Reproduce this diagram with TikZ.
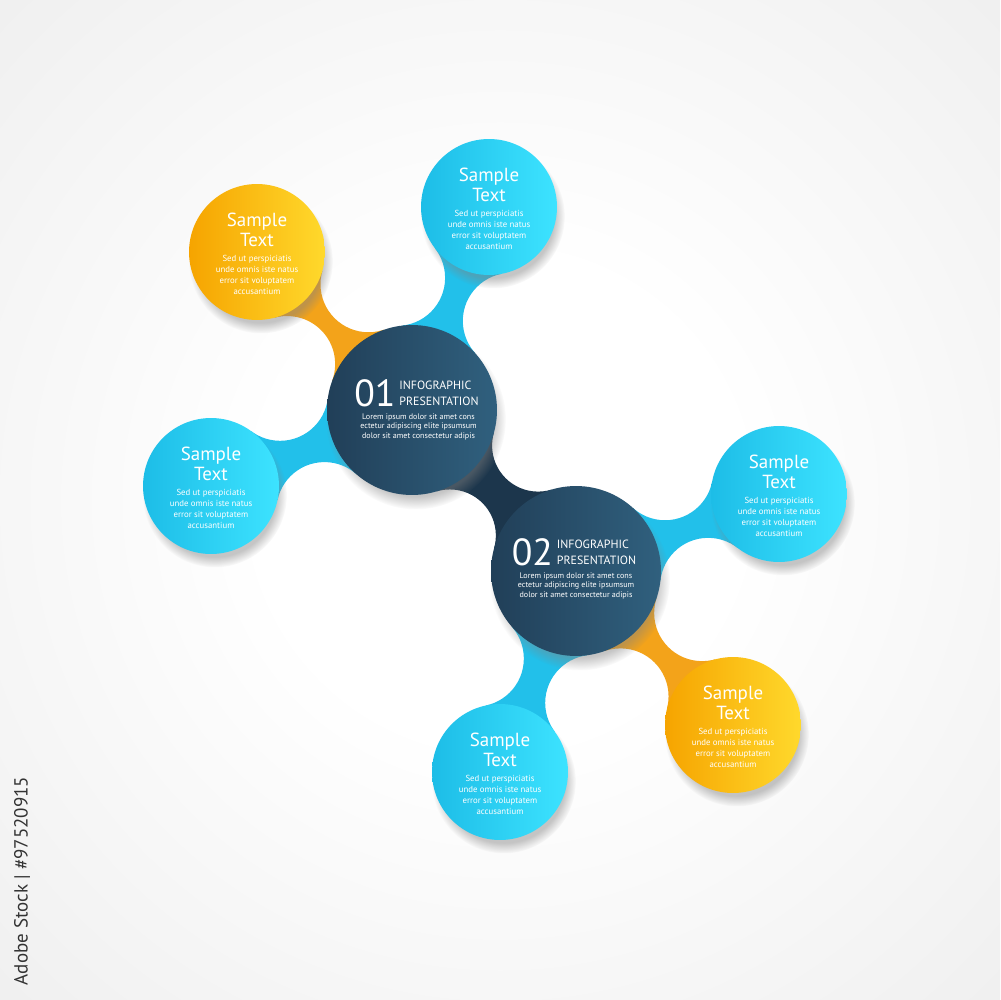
\documentclass[tikz,border=0pt]{standalone}
\usepackage{fontspec}
\setmainfont{PT Sans}
\usetikzlibrary{calc,
                intersections,
                shadows,
                backgrounds,
                positioning}

\definecolor{paper}{HTML}{CDCDCD}
\definecolor{navyleft}{HTML}{213F58}
\definecolor{navyright}{HTML}{30607E}
\definecolor{navyneck}{HTML}{1C364C}
\definecolor{skyleft}{HTML}{1DBDE7}
\definecolor{skyright}{HTML}{3DE3FF}
\definecolor{skyneck}{HTML}{22C0EA}
\definecolor{amberleft}{HTML}{F6A400}
\definecolor{amberright}{HTML}{FFD92C}
\definecolor{amberneck}{HTML}{F3A31A}

\pgfdeclareradialshading{backdrop}{\pgfpoint{0bp}{0bp}}{%
  color(0bp)=(white); color(12bp)=(white); color(35bp)=(paper!30!white);
  color(50bp)=(paper!60!white); color(71bp)=(paper)}

\tikzset{
  blob/.style={circle, inner sep=0pt, outer sep=0pt,
    circular drop shadow={shadow xshift=2pt, shadow yshift=-5pt, shadow scale=1.06, opacity=.45}},
  hub/.style={blob, minimum size=3.4cm, left color=navyleft, right color=navyright},
  sat/.style={blob, minimum size=2.72cm},
  skysat/.style={sat, left color=skyleft, right color=skyright},
  ambersat/.style={sat, left color=amberleft, right color=amberright},
  headtext/.style={text=white, align=center, inner sep=0pt, font=\fontsize{10.8}{11.4}\selectfont},
  bodytext/.style={text=white, align=center, inner sep=0pt, font=\fontsize{5}{6.26}\selectfont},
  numtext/.style={text=white, inner sep=0pt, font=\fontsize{21.5}{21.5}\selectfont},
  titletext/.style={text=white, inner sep=0pt, font=\fontsize{6.8}{6.8}\selectfont},
  loremtext/.style={text=white, align=center, inner sep=0pt, font=\fontsize{4.6}{5.4}\selectfont}
}

% neck between two discs: from, to, radius from, radius to, bend radius, colour
\newcommand{\neck}[6]{%
  \begin{scope}[on background layer]
    \begin{scope}
      \path[name path=ra-#1-#2] (#1.center) circle[radius=#3+#5];
      \path[name path=rb-#1-#2] (#2.center) circle[radius=#4+#5];
      \path[name intersections={of=ra-#1-#2 and rb-#1-#2, name=k-#1-#2}];
      \clip (#1.center) -- (k-#1-#2-1) -- (#2.center) -- (k-#1-#2-2) -- cycle;
      \fill[#6, even odd rule] ($(#1.center)!.5!(#2.center)$) circle[radius=200]
        (k-#1-#2-1) circle[radius=#5] (k-#1-#2-2) circle[radius=#5];
    \end{scope}
  \end{scope}
}

% texts of a small disc
\newcommand{\satlabel}[1]{%
  \node[headtext, anchor=south] (#1-head) at ($(#1)+(0,-5)$) {Sample\\Text};
  \node[bodytext, anchor=north] (#1-body) at ($(#1)+(0,3)$)
    {Sed ut perspiciatis\\unde omnis iste natus\\error sit voluptatem\\accusantium};
}

% texts of a big disc: hub, number, shift x, shift y
\newcommand{\hublabel}[4]{%
  \coordinate (#1-o) at ($(#1)+(#3,#4)$);
  \node[numtext, anchor=base west] (#1-num) at ($(#1-o)+(-58,-4)$) {#2};
  \node[titletext, anchor=base west] (#1-top) at ($(#1-o)+(-13,-21)$) {INFOGRAPHIC};
  \node[titletext, anchor=base west] (#1-bot) at ($(#1-o)+(-13,-5)$) {PRESENTATION};
  \node[loremtext, anchor=north] (#1-lorem) at ($(#1-o)+(6.5,3)$)
    {Lorem ipsum dolor sit amet cons\\ectetur adipiscing elite ipsumsum\\dolor sit amet consectetur adipis};
}

\begin{document}
\begin{tikzpicture}[x=0.02cm, y=-0.02cm]

  \useasboundingbox (0,0) rectangle (1000,1000);
  \begin{scope}[on background layer]
    \shade[shading=backdrop] (0,0) rectangle (1000,1000);
  \end{scope}

  % big discs
  \node[hub] (h1) at (412,410) {};
  \node[hub] (h2) at (576,571) {};

  % small discs
  \node[ambersat] (s1) at (257,252) {};
  \node[skysat]   (s2) at (489,207) {};
  \node[skysat]   (s3) at (211,486) {};
  \node[skysat]   (s4) at (779,494) {};
  \node[ambersat] (s5) at (733,725) {};
  \node[skysat]   (s6) at (500,772) {};

  \neck{h1}{h2}{85}{85}{46}{navyneck}
  \neck{h1}{s1}{85}{68}{48}{amberneck}
  \neck{h1}{s2}{85}{68}{48}{skyneck}
  \neck{h1}{s3}{85}{68}{48}{skyneck}
  \neck{h2}{s4}{85}{68}{48}{skyneck}
  \neck{h2}{s5}{85}{68}{48}{amberneck}
  \neck{h2}{s6}{85}{68}{48}{skyneck}

  \hublabel{h1}{01}{0}{0}
  \hublabel{h2}{02}{-6.5}{-2}

  \foreach \s in {s1,s2,s3,s4,s5,s6}{\satlabel{\s}}

  \node[rotate=90, text=black!80, font=\fontsize{10.8}{10.8}\selectfont] (stockid) at (22,881) {Adobe Stock | \#97520915};

\end{tikzpicture}
\end{document}
